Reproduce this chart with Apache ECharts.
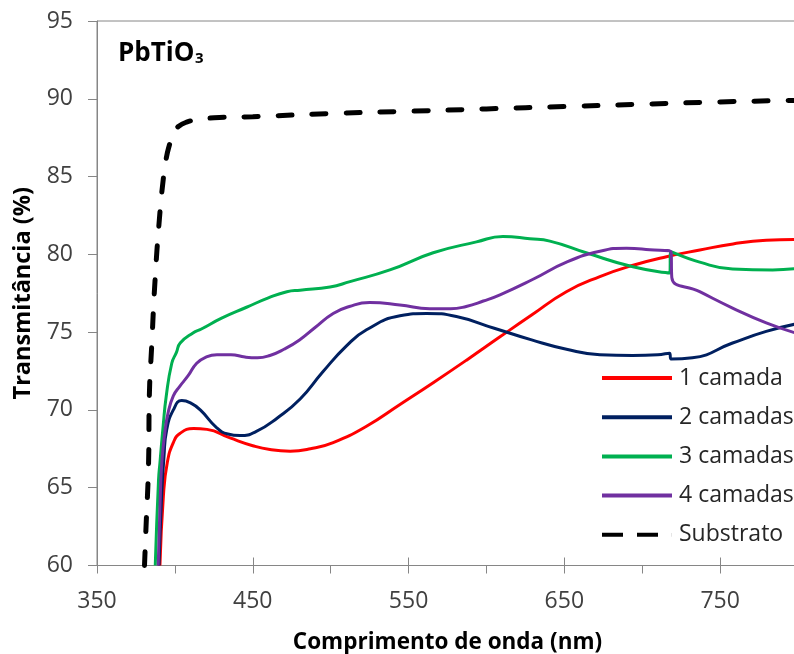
<!DOCTYPE html>
<html>
<head>
<meta charset="utf-8">
<script src="https://cdn.jsdelivr.net/npm/echarts@6/dist/echarts.min.js"></script>
<style>
html,body{margin:0;padding:0;background:#fff;}
#chart{width:794px;height:654px;}
</style>
</head>
<body>
<div id="chart"></div>
<script>
// Tick labels
const xTickLabels = [350, 450, 550, 650, 750];
const yTickLabels = [60, 65, 70, 75, 80, 85, 90, 95];
const seriesNames = ['1 camada', '2 camadas', '3 camadas', '4 camadas', 'Substrato'];

// [wavelength (nm), transmittance (%)]
const camada1 = [[390.4,60],[392.6,64.45],[395.1,66.6],[399,67.9],[403.4,68.5],[412,68.8],[420.6,68.75],[435.4,68.2],[450,67.7],[461,67.45],[474,67.35],[487,67.5],[501.6,67.9],[523,68.95],[544.5,70.35],[565.8,71.75],[587.2,73.2],[608.7,74.7],[629,76.1],[651.3,77.6],[672.8,78.57],[694.2,79.3],[715.6,79.85],[737,80.28],[758.3,80.67],[779.6,80.9],[800,80.95]];
const camadas2 = [[389.8,60],[391.5,64.5],[393,67],[394.7,68.7],[399,70.0],[404.4,70.6],[410,70.45],[416.3,70.0],[426.9,68.85],[434,68.45],[441.8,68.35],[452,68.6],[466,69.5],[480.4,70.7],[495,72.45],[510,74.1],[523,75.15],[544.5,76.05],[561.5,76.2],[580.7,76.0],[605,75.25],[629,74.5],[651.4,73.9],[672.8,73.55],[693.8,73.5],[710,73.55],[717.5,73.65],[718.5,73.27],[732.2,73.35],[758,74.3],[779.6,75.05],[800,75.55]];
const camadas3 = [[387.4,60],[389.5,65.5],[390.4,66.6],[392.5,69],[394.4,70.85],[398,73.0],[401,73.7],[403.4,74.3],[411.6,74.95],[417,75.2],[430,75.9],[446,76.6],[460,77.2],[471.9,77.6],[480.4,77.7],[499.6,77.9],[512.4,78.25],[538,79.0],[565.8,80.1],[593.6,80.8],[610.6,81.15],[627.9,81.0],[640.7,80.85],[664,80.1],[694,79.2],[717.6,78.8],[718.3,80.17],[736.9,79.5],[758,79.06],[783.7,79.0],[800,79.1]];
const camadas4 = [[389.3,60],[390.5,64],[391.6,66.6],[393.5,68.5],[395.6,69.8],[399,70.9],[403,71.5],[408.5,72.2],[414,73.0],[420,73.4],[427,73.55],[436,73.55],[445,73.4],[453,73.35],[461,73.5],[470,73.9],[480,74.5],[490,75.3],[501.6,76.2],[512,76.65],[525,76.9],[544.4,76.75],[563.6,76.5],[577,76.5],[587,76.65],[598,77.0],[608.7,77.4],[629.9,78.4],[651.4,79.5],[672.8,80.2],[689.9,80.4],[704.9,80.3],[718.5,80.15],[719,78.5],[736.9,77.6],[758,76.55],[779.6,75.6],[800,74.9]];
const substrato = [[380.5,60],[381.4,62.3],[383.1,66.6],[383.6,70.9],[385.1,74.1],[387.3,78.4],[390,82.2],[392.5,84.8],[394.5,86.2],[396.4,87.0],[399,87.8],[402,88.2],[407.5,88.5],[415,88.65],[428.6,88.8],[450,88.85],[500,89.05],[550,89.2],[600,89.35],[650,89.5],[700,89.65],[750,89.8],[800,89.9]];

const FONT = 'Open Sans';
const axisGrey = '#868686';
const labelColor = '#404040';

const chart = echarts.init(document.getElementById('chart'), null, {renderer: 'canvas'});

function lineSeries(name, data, color) {
  return {
    name: name, type: 'line', data: data,
    xAxisIndex: 0, yAxisIndex: 0,
    showSymbol: false, symbol: 'none',
    smooth: 0.5,
    lineStyle: {color: color, width: 3},
    itemStyle: {color: color, borderWidth: 0},
    emphasis: {disabled: true},
    z: 3
  };
}

const option = {
  animation: false,
  backgroundColor: '#fff',
  grid: {left: 97, right: -4, top: 21, bottom: 88.5, outerBoundsMode: 'none', containLabel: false,
    show: true, borderColor: axisGrey, borderWidth: 1, backgroundColor: 'transparent'},
  graphic: [
    {type: 'text', left: 118, top: 41, style: {text: 'PbTiO', font: 'bold 26px "' + FONT + '"', fill: '#000'}},
    {type: 'text', left: 195, top: 51, style: {text: '3', font: 'bold 15px "' + FONT + '"', fill: '#000'}}
  ],
  legend: {
    orient: 'vertical', left: 597, top: 361,
    itemWidth: 70, itemHeight: 4, itemGap: 15.2,
    symbolKeepAspect: false,
    itemStyle: {borderWidth: 0},
    data: [
      {name: seriesNames[0], icon: 'rect'},
      {name: seriesNames[1], icon: 'rect'},
      {name: seriesNames[2], icon: 'rect'},
      {name: seriesNames[3], icon: 'rect'},
      {name: seriesNames[4], icon: 'path://M0,0H21V5H0Z M35,0H56V5H35Z M69.9,0H70V5H69.9Z'}
    ],
    textStyle: {fontFamily: FONT, fontSize: 23, lineHeight: 24, color: '#262626', padding: [0,0,0,2]},
    selectedMode: false
  },
  xAxis: [
    {
      type: 'value', min: 350, max: 800, interval: 50, position: 'bottom',
      name: 'Comprimento de onda (nm)', nameLocation: 'middle', nameGap: 66,
      nameTextStyle: {fontFamily: FONT, fontSize: 22.5, fontWeight: 'bold', color: '#000', lineHeight: 22},
      axisLine: {show: true, lineStyle: {color: axisGrey, width: 1}},
      axisTick: {show: true, inside: false, length: 8, lineStyle: {color: axisGrey}},
      axisLabel: {
        margin: 24, fontFamily: FONT, fontSize: 23, color: labelColor, lineHeight: 23,
        formatter: function (v) { return xTickLabels.indexOf(v) >= 0 ? String(v) : ''; }
      },
      splitLine: {show: false}
    },
    {
      type: 'value', min: 0, max: 450, interval: 100, position: 'bottom', offset: 0,
      axisLine: {show: false},
      axisTick: {show: true, inside: true, length: 8, lineStyle: {color: axisGrey}},
      axisLabel: {show: false},
      splitLine: {show: false}
    }
  ],
  yAxis: {
    type: 'value', min: 60, max: 95, interval: 5,
    name: 'Transmitância (%)', nameLocation: 'middle', nameGap: 62,
    nameTextStyle: {fontFamily: FONT, fontSize: 23.5, fontWeight: 'bold', color: '#000', lineHeight: 22},
    axisLine: {show: true, lineStyle: {color: axisGrey, width: 1}},
    axisTick: {show: true, inside: false, length: 9, lineStyle: {color: axisGrey}},
    axisLabel: {margin: 24, fontFamily: FONT, fontSize: 23, color: labelColor,
      formatter: function (v) { return yTickLabels.indexOf(v) >= 0 ? String(v) : ''; }},
    splitLine: {show: false}
  },
  series: [
    lineSeries(seriesNames[0], camada1, '#FF0000'),
    lineSeries(seriesNames[1], camadas2, '#002060'),
    lineSeries(seriesNames[2], camadas3, '#00B050'),
    lineSeries(seriesNames[3], camadas4, '#7030A0'),
    {
      name: seriesNames[4], type: 'line', data: substrato,
      showSymbol: false, symbol: 'none',
      smooth: 0.5,
      lineStyle: {color: '#000', width: 5, type: [14, 20], cap: 'round'},
      itemStyle: {color: '#000', borderWidth: 0},
      emphasis: {disabled: true},
      z: 4
    }
  ]
};
chart.setOption(option);
</script>
</body>
</html>
